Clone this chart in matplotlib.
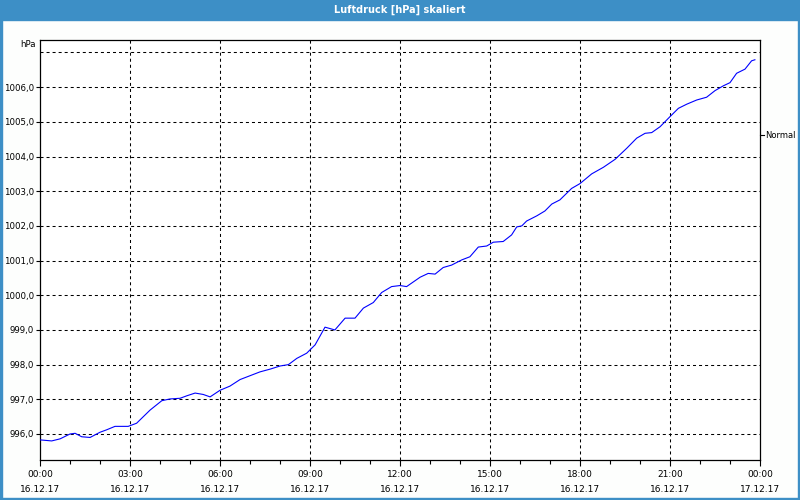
import matplotlib
matplotlib.use("Agg")
import matplotlib.pyplot as plt
from matplotlib.patches import Rectangle

# Stunden seit 16.12.17 00:00
hours = [0, 0.39, 0.67, 1.0, 1.17, 1.39, 1.67, 2.0, 2.22, 2.5,
         2.94, 3.22, 3.67, 4.06, 4.33, 4.67, 4.89, 5.17, 5.44, 5.67,
         6.0, 6.33, 6.67, 7.0, 7.33, 7.67, 8.0, 8.28, 8.56, 8.89,
         9.17, 9.5, 9.83, 10.17, 10.5, 10.78, 11.11, 11.39, 11.72, 12.0,
         12.22, 12.67, 12.94, 13.17, 13.44, 13.72, 14.06, 14.33, 14.61, 14.89,
         15.11, 15.44, 15.72, 15.89, 16.06, 16.22, 16.56, 16.83, 17.06, 17.33,
         17.72, 18.0, 18.39, 18.78, 19.17, 19.56, 19.89, 20.17, 20.39, 20.67,
         21.0, 21.28, 21.56, 21.89, 22.22, 22.5, 22.78, 23.0, 23.22, 23.5,
         23.72, 23.83]
pressure = [995.83, 995.80, 995.86, 996.00, 996.02, 995.92, 995.90, 996.05, 996.12, 996.22,
            996.22, 996.31, 996.69, 996.96, 997.01, 997.03, 997.10, 997.18, 997.14, 997.07,
            997.26, 997.38, 997.57, 997.68, 997.79, 997.87, 997.96, 998.00, 998.18, 998.33,
            998.57, 999.08, 999.00, 999.34, 999.34, 999.63, 999.79, 1000.08, 1000.25, 1000.28,
            1000.25, 1000.52, 1000.63, 1000.61, 1000.80, 1000.87, 1001.02, 1001.11, 1001.39, 1001.42,
            1001.53, 1001.55, 1001.74, 1001.97, 1002.00, 1002.14, 1002.29, 1002.43, 1002.63, 1002.75,
            1003.08, 1003.22, 1003.50, 1003.69, 1003.92, 1004.24, 1004.53, 1004.67, 1004.69, 1004.86,
            1005.15, 1005.39, 1005.51, 1005.63, 1005.71, 1005.90, 1006.04, 1006.13, 1006.40, 1006.52,
            1006.76, 1006.79]

x_ticks = [0, 3, 6, 9, 12, 15, 18, 21, 24]
x_labels = ["00:00\n16.12.17", "03:00\n16.12.17", "06:00\n16.12.17", "09:00\n16.12.17",
            "12:00\n16.12.17", "15:00\n16.12.17", "18:00\n16.12.17", "21:00\n16.12.17",
            "00:00\n17.12.17"]
y_ticks = [996, 997, 998, 999, 1000, 1001, 1002, 1003, 1004, 1005, 1006]
y_labels = ["996,0", "997,0", "998,0", "999,0", "1000,0", "1001,0", "1002,0",
            "1003,0", "1004,0", "1005,0", "1006,0"]
y_grid = y_ticks + [1007]

title = "Luftdruck [hPa] skaliert"
unit = "hPa"
legend_label = "Normal"
legend_value = 1004.62

blue_bar = "#3d8fc6"

fig = plt.figure(figsize=(8, 5), dpi=100, facecolor="#fdfefd")
ax = fig.add_axes([0.05, 0.08, 0.90, 0.84])
ax.set_facecolor("white")

# Titelbalken und Rahmen
fig.patches.append(Rectangle((0, 0.96), 1, 0.04, transform=fig.transFigure,
                             color=blue_bar, zorder=0))
fig.patches.append(Rectangle((0, 0), 0.0025, 1, transform=fig.transFigure, color=blue_bar))
fig.patches.append(Rectangle((0.9975, 0), 0.0025, 1, transform=fig.transFigure, color=blue_bar))
fig.patches.append(Rectangle((0, 0), 1, 0.004, transform=fig.transFigure, color=blue_bar))
fig.text(0.5, 0.981, title, color="white", fontsize=7, fontweight="bold",
         ha="center", va="center")

dash = (0, (2.9, 2.9))
for v in y_grid:
    ax.axhline(v, color="black", lw=0.75, ls=dash, zorder=1)
for h in x_ticks[1:-1]:
    ax.axvline(h, color="black", lw=0.75, ls=dash, zorder=1)

ax.plot(hours, pressure, color="#0000ff", lw=0.8, zorder=3)

ax.set_xlim(0, 24)
ax.set_ylim(995.25, 1007.36)
ax.set_xticks(x_ticks)
ax.set_xticklabels(x_labels, fontsize=6.5, linespacing=1.95)
ax.set_xticks(range(0, 25), minor=True)
ax.set_yticks(y_ticks)
ax.set_yticklabels(y_labels, fontsize=6.2)
ax.tick_params(axis="x", which="major", length=4, width=0.8, pad=3)
ax.tick_params(axis="x", which="minor", length=3, width=0.8)
ax.tick_params(axis="y", length=3, width=0.8, pad=1.5)
for s in ax.spines.values():
    s.set_linewidth(0.9)
    s.set_color("black")

ax.text(-0.006, 1007.22, unit, transform=ax.get_yaxis_transform(), fontsize=6.2,
        ha="right", va="center")

# Legende rechts
ax.plot([1.0, 1.005], [legend_value, legend_value], color="black", lw=0.8,
        transform=ax.get_yaxis_transform(), clip_on=False)
ax.text(1.007, legend_value, legend_label, transform=ax.get_yaxis_transform(),
        fontsize=6, ha="left", va="center")

fig.savefig("out.png", dpi=100, facecolor=fig.get_facecolor())
